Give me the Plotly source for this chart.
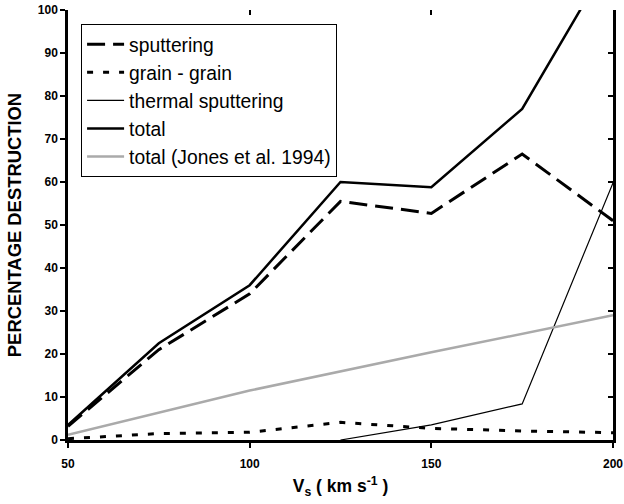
import plotly.graph_objects as go

# Shock velocity (km/s)
vs = [50, 75, 100, 125, 150, 175, 200]
sputtering = [3.2, 21.0, 34.0, 55.5, 52.7, 66.5, 51.0]
grain_grain = [0.3, 1.5, 1.8, 4.1, 2.7, 2.1, 1.7]
vs_thermal = [125, 150, 175, 200]
thermal = [0.0, 3.5, 8.4, 59.8]
total = [3.5, 22.5, 36.0, 60.0, 58.8, 77.0, 113.0]
vs_jones = [50, 100, 150, 200]
total_jones = [1.2, 11.5, 20.4, 29.0]

x_ticks = [50, 100, 150, 200]
y_ticks = list(range(0, 101, 10))

FONT = "Liberation Sans, Arial, sans-serif"

fig = go.Figure()
fig.add_trace(go.Scatter(x=vs, y=sputtering, mode="lines", name="sputtering",
                         line=dict(color="black", width=3, dash="18px,8px")))
fig.add_trace(go.Scatter(x=vs, y=grain_grain, mode="lines", name="grain - grain",
                         line=dict(color="black", width=3, dash="6px,10px")))
fig.add_trace(go.Scatter(x=vs_thermal, y=thermal, mode="lines", name="thermal sputtering",
                         line=dict(color="black", width=1.2)))
fig.add_trace(go.Scatter(x=vs, y=total, mode="lines", name="total",
                         line=dict(color="black", width=2.5)))
fig.add_trace(go.Scatter(x=vs_jones, y=total_jones, mode="lines",
                         name="total (Jones et al. 1994)",
                         line=dict(color="#aaaaaa", width=2.5)))
# carrier for the mirrored inside ticks on top and right
fig.add_trace(go.Scatter(x=[None], y=[None], xaxis="x2", yaxis="y2",
                         showlegend=False, hoverinfo="skip"))

axis_common = dict(showgrid=False, zeroline=False, showline=True,
                   linecolor="black", linewidth=2.5, automargin=False)

fig.update_layout(
    width=624, height=504,
    margin=dict(l=68, r=11, t=10, b=64),
    plot_bgcolor="white", paper_bgcolor="white",
    font=dict(family=FONT, color="black"),
    xaxis=dict(**axis_common, range=[50, 200], tickvals=x_ticks,
               ticks="outside", ticklen=5, tickwidth=2, tickcolor="black",
               ticklabelstandoff=6,
               tickfont=dict(size=12, weight="bold"),
               title=dict(text="V<sub>s</sub> ( km s<sup>-1</sup> )",
                          font=dict(size=17.5, weight="bold"), standoff=10)),
    yaxis=dict(**axis_common, range=[0, 100], tickvals=y_ticks,
               ticks="outside", ticklen=5, tickwidth=2, tickcolor="black",
               tickfont=dict(size=12, weight="bold"),
               title=dict(text="PERCENTAGE DESTRUCTION",
                          font=dict(size=18.4, weight="bold"), standoff=12)),
    xaxis2=dict(overlaying="x", side="top", range=[50, 200], tickvals=x_ticks,
                showgrid=False, zeroline=False, showline=False, automargin=False,
                ticks="inside", ticklen=5, tickwidth=2, tickcolor="black",
                showticklabels=False),
    yaxis2=dict(overlaying="y", side="right", range=[0, 100], tickvals=y_ticks,
                showgrid=False, zeroline=False, showline=True, linecolor="black",
                linewidth=2.5, ticks="inside", ticklen=5, tickwidth=2,
                automargin=False, tickcolor="black", showticklabels=False),
    legend=dict(x=0.024, y=0.967, xanchor="left", yanchor="top",
                bgcolor="white", bordercolor="black", borderwidth=1,
                font=dict(size=19.3, family=FONT), tracegroupgap=0,
                itemwidth=37),
    showlegend=True,
)

fig.write_html("out.html")
